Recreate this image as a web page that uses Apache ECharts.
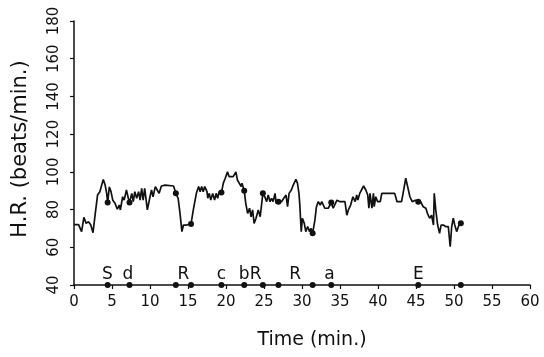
<!DOCTYPE html>
<html>
<head>
<meta charset="utf-8">
<script src="https://cdn.jsdelivr.net/npm/echarts@6/dist/echarts.min.js"></script>
<style>
  html, body { margin: 0; padding: 0; background: #fff; }
  #chart { width: 544px; height: 357px; }
</style>
</head>
<body>
<div id="chart"></div>
<script>
// heart rate trace (time in min, beats/min)
const times = [0, 0.6, 1.0, 1.3, 1.6, 1.9, 2.2, 2.5, 2.8, 3.1, 3.4, 3.85, 4.1, 4.3, 4.43, 4.65, 4.87, 5.1, 5.4, 5.7,
  5.96, 6.1, 6.4, 6.6, 6.9, 7.15, 7.3, 7.6, 7.8, 8.0, 8.25, 8.5, 8.7, 8.9, 9.1, 9.3, 9.65, 10.0, 10.2, 10.4,
  10.7, 10.95, 11.2, 11.5, 12.0, 13.1, 13.4, 13.7, 13.95, 14.2, 14.4, 14.8, 15.4, 15.7, 16.1, 16.4, 16.6, 16.8, 17.0, 17.2,
  17.5, 17.6, 17.8, 18.0, 18.25, 18.5, 18.7, 18.9, 19.1, 19.4, 19.65, 19.9, 20.2, 20.4, 20.65, 20.95, 21.3, 21.5, 21.7, 22.0,
  22.1, 22.4, 22.6, 22.85, 23.1, 23.3, 23.5, 23.7, 23.95, 24.25, 24.5, 24.65, 24.85, 25.1, 25.35, 25.55, 25.8, 26.0, 26.2, 26.45,
  26.6, 26.9, 27.3, 27.6, 27.9, 28.1, 28.3, 28.6, 28.85, 29.2, 29.4, 29.6, 29.7, 29.9, 30.05, 30.3, 30.5, 30.75, 31.0, 31.2,
  31.4, 31.7, 31.9, 32.15, 32.4, 32.6, 33.0, 33.45, 33.85, 34.1, 34.6, 35.0, 35.65, 35.9, 36.1, 36.4, 36.7, 37.0, 37.2, 37.35,
  37.6, 38.1, 38.4, 38.65, 38.8, 38.95, 39.2, 39.4, 39.5, 39.7, 39.95, 40.3, 40.5, 42.2, 42.5, 43.1, 43.3, 43.65, 43.9, 44.2,
  44.5, 44.9, 45.3, 45.6, 45.95, 46.3, 46.5, 46.8, 47.05, 47.3, 47.4, 47.6, 47.85, 48.1, 48.3, 48.6, 48.9, 49.25, 49.5, 49.7,
  49.9, 50.1, 50.35, 50.65, 50.9]
const heartRate = [72, 72, 68.3, 75.9, 72.7, 73.6, 72, 67.7, 78, 87.7, 89.5, 96, 93, 88.6, 83.7, 92, 89.5, 85, 83.3, 80.2,
  82.4, 79.8, 86.8, 85, 90.4, 86, 83.7, 88.6, 84.2, 89.5, 86, 89.5, 85, 91.3, 85, 91.3, 79.8, 86.8, 90.4, 86.8,
  92.2, 90.4, 88.6, 92.5, 93, 92.5, 88.6, 86, 78, 68.3, 71.8, 71.8, 72.4, 79.8, 88.6, 92.2, 89.5, 92.2, 89.5, 92.2,
  89.5, 86, 88.6, 85, 88.6, 85, 88.6, 86, 89.5, 89, 94, 96.6, 100, 97.5, 96.6, 97.5, 100, 95.7, 96.6, 92.2,
  94, 90, 83.3, 78, 80.7, 76.2, 79.8, 72.7, 75.4, 79.8, 76.2, 77, 88.6, 86.8, 84.2, 87.7, 84.2, 86, 84.2, 88.6,
  83.3, 84.2, 84.2, 86, 87.7, 81.5, 88.6, 90.4, 93, 96, 94, 88.6, 83.3, 68.3, 75.4, 72.7, 68.3, 71, 68.3, 70,
  67.4, 74.5, 81.5, 84.2, 82.4, 84.2, 80.7, 80.7, 83.7, 80.7, 85, 84.2, 84.2, 77, 79.8, 82.4, 86.8, 84.2, 87.7, 85,
  88.6, 92.5, 90.4, 87.7, 80.7, 88.6, 80.7, 88.6, 81.5, 86.8, 84.2, 84.2, 88.6, 88.6, 84.2, 84.2, 88.6, 96.6, 92.2, 86.8,
  84.2, 85, 84.2, 84.2, 81.5, 80.7, 78, 75.4, 77, 71.8, 88.6, 79.8, 71.8, 67.4, 71.8, 71.8, 71, 71, 60.3, 71,
  75.4, 71.8, 68.3, 71.8, 72.7]

// event markers: time, heart rate at that time
const eventTimes = [4.43, 7.3, 13.4, 15.4, 19.4, 22.4, 24.85, 26.9, 31.4, 33.85, 45.3, 50.9]
const eventHR = [83.7, 83.7, 88.6, 72.4, 89, 90, 88.6, 84.2, 67.4, 83.7, 84.2, 72.7]

// letters written above the time axis
const noteTimes = [4.4, 7.1, 14.4, 19.4, 22.4, 23.9, 29.1, 33.6, 45.3]
const noteText = ['S', 'd', 'R', 'c', 'b', 'R', 'R', 'a', 'E']

const xTicks = [0, 60, 5]
const yTicks = [40, 180, 20]

const font = 'DejaVu Sans'
const ink = '#111'

const chart = echarts.init(document.getElementById('chart'))

chart.setOption({
  animation: false,
  backgroundColor: '#fff',
  grid: { left: 74, right: 14, top: 21, bottom: 72 },
  xAxis: {
    type: 'value',
    min: xTicks[0],
    max: xTicks[1],
    interval: xTicks[2],
    name: 'Time (min.)',
    nameLocation: 'middle',
    nameGap: 46,
    nameTextStyle: { color: ink, fontFamily: font, fontSize: 19, padding: [0, 0, 0, 20] },
    axisLine: { lineStyle: { color: ink, width: 1.5 } },
    axisTick: { length: 4, lineStyle: { color: ink, width: 1.2 } },
    axisLabel: { color: ink, fontFamily: font, fontSize: 15, margin: 10 },
    splitLine: { show: false }
  },
  yAxis: {
    type: 'value',
    min: yTicks[0],
    max: yTicks[1],
    interval: yTicks[2],
    name: 'H.R. (beats/min.)',
    nameLocation: 'middle',
    nameGap: 43,
    nameRotate: 90,
    nameTextStyle: { color: ink, fontFamily: font, fontSize: 21, padding: [0, 0, 0, 8] },
    axisLine: { lineStyle: { color: ink, width: 1.5 } },
    axisTick: { length: 4, lineStyle: { color: ink, width: 1.2 } },
    axisLabel: { color: ink, fontFamily: font, fontSize: 15, rotate: 90, margin: 12 },
    splitLine: { show: false }
  },
  series: [
    {
      name: 'HR',
      type: 'line',
      data: times.map((t, i) => [t, heartRate[i]]),
      showSymbol: false,
      lineStyle: { color: ink, width: 1.7 },
      z: 2
    },
    {
      name: 'events',
      type: 'scatter',
      data: eventTimes.map((t, i) => [t, eventHR[i]]),
      symbolSize: 6,
      itemStyle: { color: ink, opacity: 1 },
      z: 3
    },
    {
      name: 'event times',
      type: 'scatter',
      data: eventTimes.map(t => [t, yTicks[0]]),
      symbolSize: 6,
      itemStyle: { color: ink, opacity: 1 },
      z: 3
    },
    {
      name: 'notes',
      type: 'scatter',
      data: noteTimes.map(t => [t, yTicks[0]]),
      symbolSize: 0,
      itemStyle: { opacity: 1 },
      label: {
        show: true,
        position: 'top',
        distance: 2,
        color: ink,
        fontFamily: font,
        fontSize: 17,
        formatter: p => noteText[p.dataIndex]
      },
      z: 4
    }
  ]
})
</script>
</body>
</html>
